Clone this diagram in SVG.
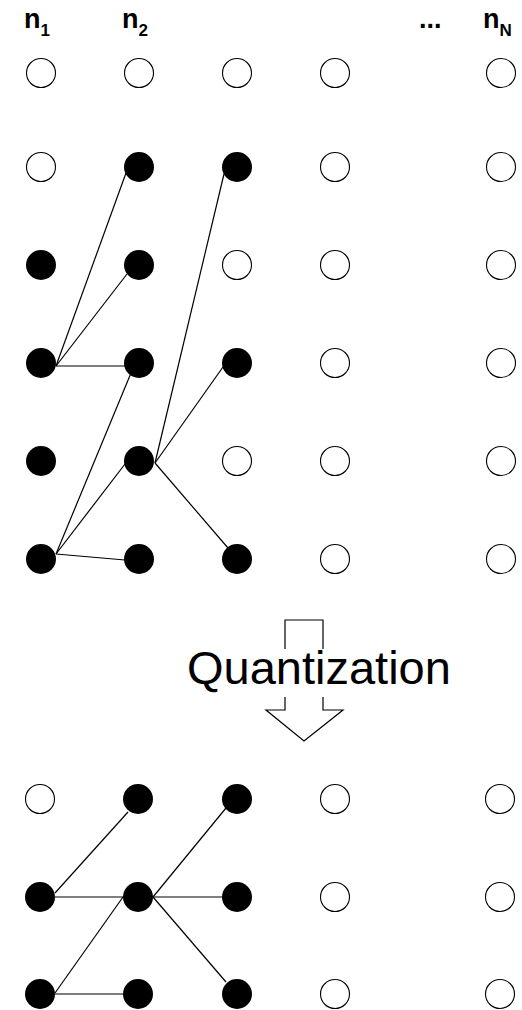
<svg xmlns="http://www.w3.org/2000/svg" width="522" height="1010" viewBox="0 0 522 1010">
  <style>
    .on { fill: #000; stroke: none; }
    .off { fill: #fff; stroke: #000; stroke-width: 1.1; }
    .edge { stroke: #000; stroke-width: 1.2; fill: none; }
    .lbl { font-family: "Liberation Sans", Arial, sans-serif; font-weight: bold; fill: #000; }
    .big { font-family: "Liberation Sans", Arial, sans-serif; font-size: 47px; fill: #000; }
  </style>
  <defs>
    <circle id="on" r="15" class="on"/>
    <circle id="off" r="14.5" class="off"/>
  </defs>
  <rect width="522" height="1010" fill="#fff"/>

  <!-- column labels -->
  <g id="labels">
    <text class="lbl" x="24" y="28" font-size="27">n<tspan font-size="17" dy="8">1</tspan></text>
    <text class="lbl" x="122" y="28" font-size="27">n<tspan font-size="17" dy="8">2</tspan></text>
    <text class="lbl" x="419" y="28" font-size="27">...</text>
    <text class="lbl" x="483" y="28" font-size="27">n<tspan font-size="17" dy="8">N</tspan></text>
  </g>

  <!-- connectors, upper lattice -->
  <g id="edges-top">
    <line class="edge" x1="56" y1="366" x2="126" y2="173"/>
    <line class="edge" x1="56" y1="366" x2="127" y2="274"/>
    <line class="edge" x1="56" y1="366" x2="126" y2="366"/>
    <line class="edge" x1="56" y1="554" x2="131" y2="373"/>
    <line class="edge" x1="56" y1="554" x2="125" y2="464"/>
    <line class="edge" x1="56" y1="554" x2="125" y2="560"/>
    <line class="edge" x1="155" y1="463" x2="224" y2="174"/>
    <line class="edge" x1="155" y1="463" x2="223" y2="367"/>
    <line class="edge" x1="155" y1="463" x2="228" y2="548"/>
  </g>

  <!-- upper lattice nodes -->
  <g id="top-row1">
    <use href="#off" x="41" y="73"/><use href="#off" x="139" y="73"/><use href="#off" x="237" y="73"/><use href="#off" x="335" y="73"/><use href="#off" x="501" y="73"/>
  </g>
  <g id="top-row2">
    <use href="#off" x="41" y="167"/><use href="#on" x="139" y="167"/><use href="#on" x="237" y="167"/><use href="#off" x="335" y="167"/><use href="#off" x="501" y="167"/>
  </g>
  <g id="top-row3">
    <use href="#on" x="41" y="265"/><use href="#on" x="139" y="265"/><use href="#off" x="237" y="265"/><use href="#off" x="335" y="265"/><use href="#off" x="501" y="265"/>
  </g>
  <g id="top-row4">
    <use href="#on" x="41" y="363"/><use href="#on" x="139" y="363"/><use href="#on" x="237" y="363"/><use href="#off" x="335" y="363"/><use href="#off" x="501" y="363"/>
  </g>
  <g id="top-row5">
    <use href="#on" x="41" y="461"/><use href="#on" x="139" y="461"/><use href="#off" x="237" y="461"/><use href="#off" x="335" y="461"/><use href="#off" x="501" y="461"/>
  </g>
  <g id="top-row6">
    <use href="#on" x="41" y="559"/><use href="#on" x="139" y="559"/><use href="#on" x="237" y="559"/><use href="#off" x="335" y="559"/><use href="#off" x="501" y="559"/>
  </g>

  <!-- quantization step: hollow down arrow behind the caption -->
  <g id="quantization">
    <path d="M285,620 H323 V710 H343 L304,741 L266,710 H285 Z" fill="#fff" stroke="#000" stroke-width="1.2"/>
    <rect x="186" y="649" width="266" height="48" fill="#fff"/>
    <text class="big" x="187" y="684">Quantization</text>
  </g>

  <!-- connectors, lower lattice -->
  <g id="edges-bottom">
    <line class="edge" x1="55" y1="893" x2="128" y2="812"/>
    <line class="edge" x1="55" y1="897" x2="128" y2="897"/>
    <line class="edge" x1="153" y1="897" x2="226" y2="808"/>
    <line class="edge" x1="153" y1="897" x2="225" y2="897"/>
    <line class="edge" x1="123" y1="897" x2="55" y2="993"/>
    <line class="edge" x1="153" y1="897" x2="226" y2="982"/>
    <line class="edge" x1="55" y1="994" x2="123" y2="994"/>
  </g>

  <!-- lower lattice nodes -->
  <g id="bottom-row1">
    <use href="#off" x="40" y="799"/><use href="#on" x="138" y="799"/><use href="#on" x="237" y="799"/><use href="#off" x="335" y="799"/><use href="#off" x="500" y="799"/>
  </g>
  <g id="bottom-row2">
    <use href="#on" x="40" y="897"/><use href="#on" x="138" y="897"/><use href="#on" x="237" y="897"/><use href="#off" x="335" y="897"/><use href="#off" x="500" y="897"/>
  </g>
  <g id="bottom-row3">
    <use href="#on" x="40" y="994"/><use href="#on" x="138" y="994"/><use href="#on" x="237" y="994"/><use href="#off" x="335" y="994"/><use href="#off" x="500" y="994"/>
  </g>
</svg>
